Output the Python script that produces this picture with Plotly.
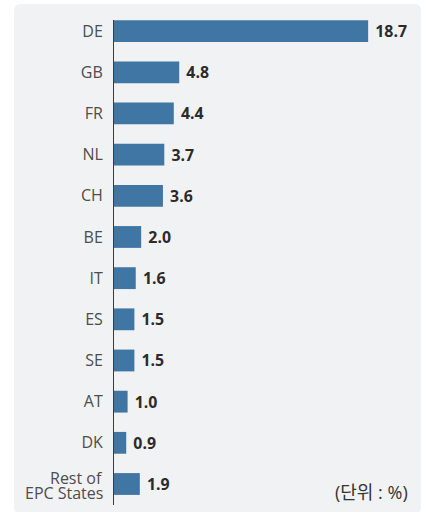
import plotly.graph_objects as go

# Share of filings by country (%)
countries = ["DE", "GB", "FR", "NL", "CH", "BE", "IT", "ES", "SE", "AT", "DK", "Rest of<br>EPC States"]
shares = [18.7, 4.8, 4.4, 3.7, 3.6, 2.0, 1.6, 1.5, 1.5, 1.0, 0.9, 1.9]
unit_label = "(단위 : %)"

W, H = 428, 512
ML, MR, MT, MB = 114, 15, 20, 7
BAR_COLOR = "#3f76a4"
PANEL = "#f1f2f4"
LABEL_COLOR = "#4d4d4d"
FONT = "Open Sans, Noto Sans CJK KR, sans-serif"

positions = list(range(len(countries)))

fig = go.Figure(
    go.Bar(
        x=shares,
        y=positions,
        orientation="h",
        marker=dict(color=BAR_COLOR, line=dict(width=0)),
        width=0.53,
        text=[f"{v:.1f}" for v in shares],
        texttemplate=" <b>%{text}</b>",
        textposition="outside",
        textfont=dict(family=FONT, size=16, color="#2b2b2b"),
        cliponaxis=False,
        hoverinfo="skip",
    )
)

# rounded light panel behind the chart, expressed in paper coordinates
pw, ph = W - ML - MR, H - MT - MB


def px(x):
    return (x - ML) / pw


def py(y):
    return 1 - (y - MT) / ph


x0, x1, y0, y1, r = 14, 421, 4, 514, 7
path = (
    f"M {px(x0 + r)},{py(y0)} L {px(x1 - r)},{py(y0)} "
    f"Q {px(x1)},{py(y0)} {px(x1)},{py(y0 + r)} "
    f"L {px(x1)},{py(y1 - r)} Q {px(x1)},{py(y1)} {px(x1 - r)},{py(y1)} "
    f"L {px(x0 + r)},{py(y1)} Q {px(x0)},{py(y1)} {px(x0)},{py(y1 - r)} "
    f"L {px(x0)},{py(y0 + r)} Q {px(x0)},{py(y0)} {px(x0 + r)},{py(y0)} Z"
)
fig.add_shape(type="path", path=path, xref="paper", yref="paper",
              fillcolor=PANEL, line=dict(width=0), layer="below")

# multi-line category labels are set as tight stacked lines
tick_text = []
for i, name in enumerate(countries):
    lines = name.split("<br>")
    if len(lines) == 1:
        tick_text.append(name)
        continue
    tick_text.append("")
    step = 15
    first = (len(lines) - 1) * step / 2
    for k, line in enumerate(lines):
        fig.add_annotation(
            text=line, xref="paper", yref="y", x=px(104.5), y=positions[i],
            xanchor="right", yanchor="middle", yshift=first - k * step - 1,
            showarrow=False, font=dict(family=FONT, size=16, color=LABEL_COLOR),
        )

fig.add_annotation(
    text=unit_label, xref="paper", yref="paper",
    x=px(410), y=py(492), xanchor="right", yanchor="middle",
    showarrow=False, font=dict(family=FONT, size=18, color="#333333"),
)

fig.update_layout(
    width=W, height=H,
    margin=dict(l=ML, r=MR, t=MT, b=MB, pad=0),
    paper_bgcolor="white",
    plot_bgcolor="rgba(0,0,0,0)",
    showlegend=False,
    xaxis=dict(range=[0, 22], visible=False, fixedrange=True),
    yaxis=dict(
        range=[11.51, -0.27],
        tickmode="array",
        tickvals=positions,
        ticktext=tick_text,
        tickfont=dict(family=FONT, size=16, color=LABEL_COLOR),
        ticks="outside", ticklen=7, tickcolor="rgba(0,0,0,0)",
        showgrid=False, zeroline=False,
        showline=True, linecolor="#3a3a3a", linewidth=1,
        fixedrange=True,
    ),
)

fig.write_html("out.html", config={"displayModeBar": False})
